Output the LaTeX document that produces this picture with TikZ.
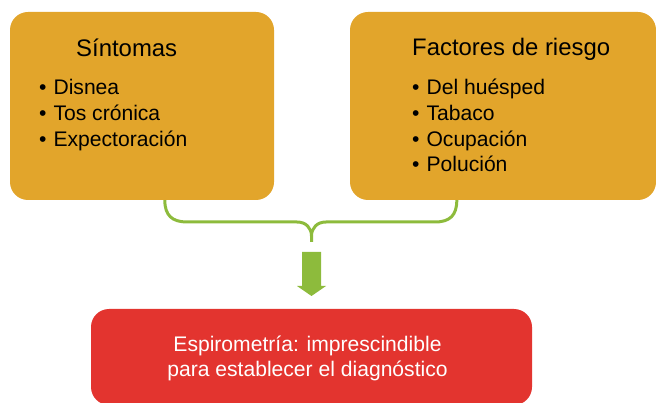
\documentclass[tikz,border=0pt]{standalone}
\usepackage{fontspec}
\setmainfont{Liberation Sans}
\usetikzlibrary{calc}
\definecolor{boxorange}{HTML}{E2A52B}
\definecolor{boxred}{HTML}{E3342F}
\definecolor{linegreen}{HTML}{8DBB3C}
\begin{document}
\begin{tikzpicture}[x=1pt,y=-1pt,
  orangebox/.style={fill=boxorange, rounded corners=18pt, inner sep=0pt},
  redbox/.style={fill=boxred, rounded corners=18pt, inner sep=0pt},
  headtxt/.style={anchor=base west, inner sep=0pt, font=\fontsize{23.9}{28}\selectfont},
  itemtxt/.style={anchor=base west, inner sep=0pt, font=\fontsize{21.1}{25}\selectfont},
  bracketline/.style={draw=linegreen, line width=3pt}]
\useasboundingbox (0,0) rectangle (656,403);
% boxes
\node[orangebox, minimum width=264pt, minimum height=188pt] (sint) at (142,106) {};
\node[orangebox, minimum width=306pt, minimum height=188pt] (fact) at (503,106) {};
\node[redbox, minimum width=441pt, minimum height=96pt] (espi) at (311.5,357) {};
% left texts
\node[headtxt] (sinth) at (76,57) {Síntomas};
\node[itemtxt] (s1) at (39,95) {•\hspace{0.33em}Disnea};
\node[itemtxt] (s2) at (39,121) {•\hspace{0.33em}Tos crónica};
\node[itemtxt] (s3) at (39,147) {•\hspace{0.33em}Expectoración};
% right texts
\node[headtxt] (facth) at (412,56) {Factores de riesgo};
\node[itemtxt] (f1) at (412,95) {•\hspace{0.33em}Del huésped};
\node[itemtxt] (f2) at (412,121) {•\hspace{0.33em}Tabaco};
\node[itemtxt] (f3) at (412,147) {•\hspace{0.33em}Ocupación};
\node[itemtxt] (f4) at (412,172) {•\hspace{0.33em}Polución};
% red text
\node[anchor=center, inner sep=0pt, text=white, align=center,
  font=\fontsize{21.1}{25}\selectfont] (espit) at (307.5,358)
  {Espirometría: imprescindible\\para establecer el diagnóstico};
% bracket
\coordinate (lb) at ($(sint.south west)+(155,0)$);
\coordinate (rb) at ($(fact.south west)+(107,0)$);
\coordinate (mid) at (311.5,242);
\draw[bracketline] (lb) .. controls ++(0,15) and (172,222) .. (187,222) -- (297,222)
  .. controls (306,222) and (311.5,228) .. (311.5,236) -- (mid);
\draw[bracketline] (rb) .. controls ++(0,15) and (450,222) .. (435,222) -- (326,222)
  .. controls (317,222) and (311.5,228) .. (311.5,236);
% arrow
\coordinate (arrtop) at (311.5,252);
\coordinate (arrtip) at (311.5,296);
\fill[linegreen] ($(arrtop)+(-9.5,0)$) -- ($(arrtop)+(9.5,0)$) -- (321,286) -- (326,286)
  -- (arrtip) -- (297,286) -- (302,286) -- cycle;
\end{tikzpicture}
\end{document}
